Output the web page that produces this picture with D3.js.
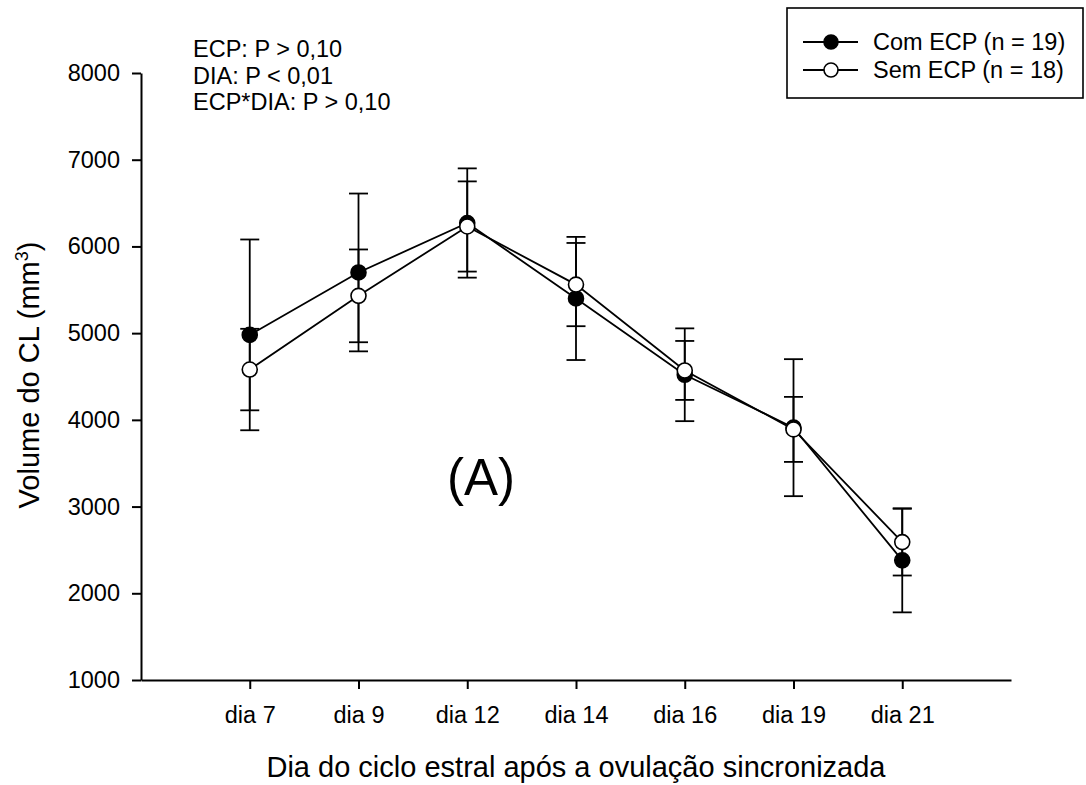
<!DOCTYPE html>
<html>
<head>
<meta charset="utf-8">
<script src="https://cdn.jsdelivr.net/npm/d3@7"></script>
<style>
  body { margin: 0; background: #fff; }
  svg text { font-family: "Liberation Sans", Arial, sans-serif; fill: #000; }
</style>
</head>
<body>
<div id="chart"></div>
<script>
// values
const days = ['dia 7', 'dia 9', 'dia 12', 'dia 14', 'dia 16', 'dia 19', 'dia 21']
const comMean = [4980, 5700, 6270, 5400, 4520, 3910, 2380]
const comSE = [1100, 910, 630, 710, 535, 790, 600]
const semMean = [4580, 5430, 6230, 5560, 4570, 3890, 2590]
const semSE = [470, 535, 520, 480, 340, 375, 385]
const yTicks = [1000, 2000, 3000, 4000, 5000, 6000, 7000, 8000]
const statsLines = ['ECP: P > 0,10', 'DIA: P < 0,01', 'ECP*DIA: P > 0,10']
const seriesNames = ['Com ECP (n = 19)', 'Sem ECP (n = 18)']

const width = 1086, height = 785
const svg = d3.select('#chart').append('svg')
  .attr('width', width)
  .attr('height', height)

const x = d3.scalePoint().domain(days).range([141, 1011]).padding(1)
const y = d3.scaleLinear().domain([1000, 8000]).range([680, 73])

const series = [
  { mean: comMean, se: comSE, fill: '#000' },
  { mean: semMean, se: semSE, fill: '#fff' }
]

// axes
let gx = svg.append('g')
  .attr('transform', `translate(0,${y(1000)})`)
  .call(d3.axisBottom(x).tickSize(9).tickSizeOuter(0).tickPadding(17))
let gy = svg.append('g')
  .attr('transform', `translate(${x.range()[0]},0)`)
  .call(d3.axisLeft(y).tickValues(yTicks).tickSize(9).tickSizeOuter(0).tickPadding(12).tickFormat(d3.format('d')))

;[gx, gy].forEach(g => {
  g.selectAll('path, line').attr('stroke', '#000').attr('stroke-width', 2)
  g.selectAll('text').style('font-size', '23.5px').attr('font-family', null)
})

// error bars
const cap = 9.5
const bars = svg.append('g')
series.forEach(s => {
  days.forEach((d, i) => {
    const cx = x(d)
    const lo = y(s.mean[i] - s.se[i]), hi = y(s.mean[i] + s.se[i])
    bars.append('line').attr('x1', cx).attr('x2', cx).attr('y1', lo).attr('y2', hi)
    bars.append('line').attr('x1', cx - cap).attr('x2', cx + cap).attr('y1', lo).attr('y2', lo)
    bars.append('line').attr('x1', cx - cap).attr('x2', cx + cap).attr('y1', hi).attr('y2', hi)
  })
})
bars.selectAll('line').attr('stroke', '#000').attr('stroke-width', 1.8)

// lines and markers
let line = d3.line().x((d, i) => x(days[i])).y(d => y(d))
series.forEach(s => {
  svg.append('path')
    .attr('d', line(s.mean))
    .attr('fill', 'none')
    .attr('stroke', '#000')
    .attr('stroke-width', 1.8)
})
series.forEach(s => {
  svg.append('g').selectAll('circle')
    .data(s.mean)
    .enter().append('circle')
    .attr('cx', (d, i) => x(days[i]))
    .attr('cy', d => y(d))
    .attr('r', 7.5)
    .attr('fill', s.fill)
    .attr('stroke', '#000')
    .attr('stroke-width', 1.6)
})

// stats annotation
svg.append('g').selectAll('text')
  .data(statsLines)
  .enter().append('text')
  .attr('x', 193)
  .attr('y', (d, i) => 57 + i * 26.7)
  .style('font-size', '23.5px')
  .text(d => d)

svg.append('text')
  .attr('x', 481)
  .attr('y', 495)
  .attr('text-anchor', 'middle')
  .style('font-size', '51px')
  .text('(A)')

// axis titles
svg.append('text')
  .attr('x', (x.range()[0] + x.range()[1]) / 2)
  .attr('y', 777)
  .attr('text-anchor', 'middle')
  .style('font-size', '29px')
  .text('Dia do ciclo estral após a ovulação sincronizada')

let yt = svg.append('text')
  .attr('transform', 'translate(39,375) rotate(-90)')
  .attr('text-anchor', 'middle')
  .style('font-size', '29px')
yt.append('tspan').text('Volume do CL (mm')
yt.append('tspan').attr('dy', -11).style('font-size', '18px').text('3')
yt.append('tspan').attr('dy', 11).text(')')

// legend
let lg = svg.append('g')
lg.append('rect')
  .attr('x', 787).attr('y', 8).attr('width', 296).attr('height', 90)
  .attr('fill', '#fff').attr('stroke', '#000').attr('stroke-width', 1.6)
series.forEach((s, i) => {
  const cy = 42 + i * 28
  lg.append('line').attr('x1', 803).attr('x2', 858).attr('y1', cy).attr('y2', cy)
    .attr('stroke', '#000').attr('stroke-width', 1.8)
  lg.append('circle').attr('cx', 831).attr('cy', cy).attr('r', 7)
    .attr('fill', s.fill).attr('stroke', '#000').attr('stroke-width', 1.6)
  lg.append('text').attr('x', 873).attr('y', cy + 8.3)
    .style('font-size', '23.5px').text(seriesNames[i])
})
</script>
</body>
</html>
